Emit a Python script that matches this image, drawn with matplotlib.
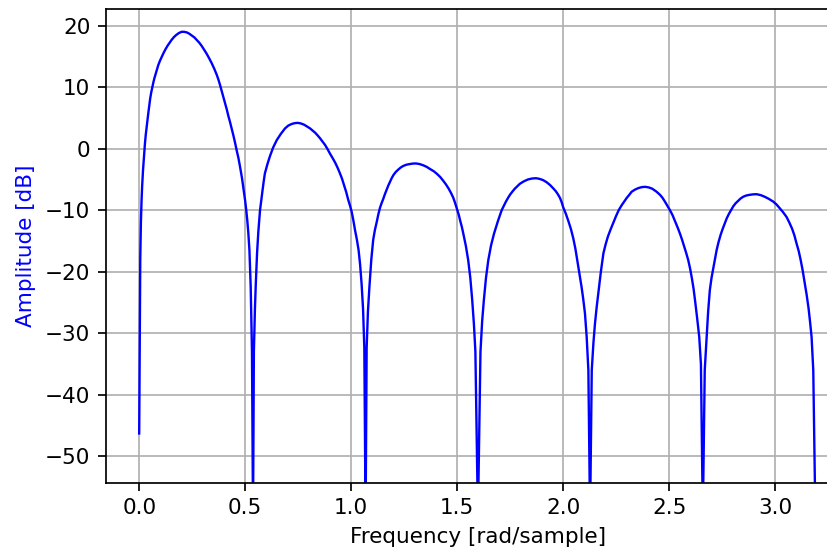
import matplotlib
matplotlib.use("Agg")
import matplotlib.pyplot as plt

# Frequency response: (frequency [rad/sample], amplitude [dB])
points = [
    # main lobe
    (0.0, -46.3), (0.003, -30), (0.005, -18), (0.008, -12), (0.011, -8.5), (0.014, -6),
    (0.018, -3.5), (0.022, -1.5), (0.027, 0.8), (0.031, 2.3), (0.035, 3.5), (0.039, 4.7),
    (0.043, 5.8), (0.048, 7.1), (0.052, 8.2), (0.057, 9.2), (0.062, 10.0), (0.067, 10.8),
    (0.072, 11.5), (0.078, 12.2), (0.083, 12.8), (0.09, 13.6), (0.098, 14.3), (0.106, 14.9),
    (0.114, 15.5), (0.123, 16.1), (0.133, 16.7), (0.143, 17.2), (0.153, 17.7), (0.164, 18.15),
    (0.175, 18.5), (0.187, 18.8), (0.2, 19.0), (0.212, 19.0), (0.225, 18.9), (0.236, 18.7),
    (0.248, 18.4), (0.26, 18.1), (0.271, 17.7), (0.283, 17.25), (0.295, 16.7), (0.306, 16.1),
    (0.318, 15.45), (0.33, 14.7), (0.342, 13.9), (0.354, 13.0), (0.366, 12.0), (0.374, 11.2),
    (0.381, 10.4), (0.389, 9.4), (0.397, 8.4), (0.405, 7.4), (0.413, 6.4), (0.42, 5.4),
    (0.428, 4.4), (0.436, 3.3), (0.444, 2.2), (0.452, 1.0), (0.46, -0.3), (0.468, -1.5),
    (0.475, -2.8), (0.485, -4.8), (0.494, -7.0), (0.5, -8.5), (0.505, -10.0), (0.51, -11.7),
    (0.515, -13.8), (0.52, -16.5), (0.526, -22.5), (0.532, -33), (0.537, -60),
    # lobe 2
    (0.541, -33), (0.546, -26), (0.55, -22), (0.556, -17), (0.562, -13.5), (0.57, -10),
    (0.576, -8.3), (0.581, -7), (0.587, -5.4), (0.593, -4.0), (0.605, -2.5), (0.617, -1.2),
    (0.632, 0.2), (0.649, 1.4), (0.668, 2.4), (0.688, 3.3), (0.703, 3.75), (0.718, 4.0),
    (0.733, 4.15), (0.748, 4.2), (0.763, 4.1), (0.778, 3.9), (0.792, 3.6), (0.806, 3.3),
    (0.818, 2.95), (0.83, 2.6), (0.842, 2.15), (0.853, 1.7), (0.865, 1.15), (0.877, 0.6),
    (0.889, -0.1), (0.9, -0.8), (0.912, -1.5), (0.925, -2.3), (0.936, -3.1), (0.947, -4.0),
    (0.957, -4.9), (0.967, -6.0), (0.977, -7.1), (0.986, -8.3), (0.994, -9.2), (1.002, -10.2),
    (1.01, -11.6), (1.018, -13.2), (1.027, -14.8), (1.035, -16.5), (1.042, -18.8),
    (1.049, -21.9), (1.056, -26), (1.062, -32.4), (1.068, -60),
    # lobe 3
    (1.073, -32.4), (1.079, -26.5), (1.086, -22.5), (1.095, -18), (1.104, -14.8),
    (1.112, -13.2), (1.12, -12.0), (1.128, -10.7), (1.136, -9.6), (1.143, -8.9),
    (1.151, -8.2), (1.159, -7.4), (1.167, -6.7), (1.175, -6.0), (1.183, -5.4), (1.191, -4.8),
    (1.199, -4.3), (1.21, -3.8), (1.222, -3.4), (1.234, -3.05), (1.246, -2.8), (1.261, -2.6),
    (1.276, -2.5), (1.291, -2.42), (1.306, -2.4), (1.323, -2.5), (1.34, -2.7), (1.356, -2.95),
    (1.372, -3.3), (1.389, -3.65), (1.405, -4.1), (1.42, -4.6), (1.434, -5.2), (1.447, -5.8),
    (1.46, -6.5), (1.471, -7.2), (1.482, -8.0), (1.491, -8.9), (1.5, -9.9), (1.508, -10.8),
    (1.515, -11.8), (1.522, -12.7), (1.529, -13.8), (1.541, -15.8), (1.552, -18.1),
    (1.562, -21), (1.571, -24.6), (1.579, -28.5), (1.586, -33), (1.598, -60),
    # lobe 4
    (1.61, -33), (1.618, -28), (1.626, -24.6), (1.636, -21), (1.647, -18.1), (1.66, -15.7),
    (1.674, -13.8), (1.692, -11.8), (1.71, -10.0), (1.72, -9.3), (1.73, -8.6), (1.74, -8.0),
    (1.749, -7.5), (1.76, -7.0), (1.772, -6.5), (1.784, -6.1), (1.796, -5.7), (1.815, -5.3),
    (1.834, -5.0), (1.853, -4.85), (1.872, -4.8), (1.888, -4.9), (1.905, -5.1),
    (1.922, -5.45), (1.938, -5.9), (1.952, -6.4), (1.965, -6.9), (1.975, -7.4), (1.985, -8.0),
    (1.993, -8.7), (2.0, -9.5), (2.013, -10.6), (2.025, -11.8), (2.037, -13.1),
    (2.048, -14.6), (2.058, -16.3), (2.066, -18.0), (2.073, -19.4), (2.079, -20.8),
    (2.087, -22.5), (2.095, -24.5), (2.103, -26.8), (2.111, -30.6), (2.119, -36), (2.127, -60),
    # lobe 5
    (2.135, -36), (2.143, -31.5), (2.15, -28.5), (2.158, -25.8), (2.166, -23.5), (2.178, -20),
    (2.19, -17.0), (2.2, -15.6), (2.211, -14.3), (2.223, -13.2), (2.236, -12.1),
    (2.249, -11.0), (2.262, -10.0), (2.276, -9.2), (2.288, -8.6), (2.3, -8.0), (2.312, -7.5),
    (2.323, -7.0), (2.339, -6.65), (2.355, -6.4), (2.371, -6.25), (2.387, -6.2),
    (2.404, -6.3), (2.42, -6.5), (2.439, -6.95), (2.457, -7.5), (2.469, -8.0), (2.48, -8.6),
    (2.492, -9.3), (2.504, -10.0), (2.516, -10.8), (2.528, -11.8), (2.54, -12.8),
    (2.551, -13.8), (2.561, -14.8), (2.57, -15.8), (2.58, -16.9), (2.59, -18.1),
    (2.599, -19.5), (2.607, -21.0), (2.615, -22.7), (2.622, -24.6), (2.632, -27.5),
    (2.642, -30.6), (2.65, -35), (2.659, -60),
    # lobe 6
    (2.668, -36), (2.677, -30.6), (2.684, -26.5), (2.692, -23.0), (2.7, -21.0), (2.708, -19.5),
    (2.716, -18.0), (2.724, -16.5), (2.733, -15.2), (2.743, -14.0), (2.753, -13.0),
    (2.763, -12.1), (2.772, -11.3), (2.782, -10.6), (2.792, -10.0), (2.802, -9.4),
    (2.813, -8.9), (2.825, -8.5), (2.837, -8.1), (2.85, -7.8), (2.865, -7.6), (2.88, -7.5),
    (2.897, -7.42), (2.913, -7.4), (2.932, -7.55), (2.95, -7.8), (2.97, -8.15), (2.991, -8.6),
    (3.006, -9.05), (3.02, -9.6), (3.037, -10.3), (3.054, -11.1), (3.067, -12.0),
    (3.08, -13.0), (3.091, -14.1), (3.101, -15.4), (3.111, -16.6), (3.12, -18.0),
    (3.13, -19.8), (3.14, -21.9), (3.149, -23.8), (3.158, -26.0), (3.165, -28.2),
    (3.172, -30.6), (3.18, -36), (3.19, -60),
]
freq = [p[0] for p in points]
amp_db = [p[1] for p in points]

x_ticks = [0.0, 0.5, 1.0, 1.5, 2.0, 2.5, 3.0]
y_ticks = [20, 10, 0, -10, -20, -30, -40, -50]

W, H, DPI = 827, 553, 155
fig = plt.figure(figsize=(W / DPI, H / DPI), dpi=DPI)
left_px, right_px, top_px, bottom_px = 105.5, 851.0, 8.7, 483.3
ax = fig.add_axes([left_px / W, (H - bottom_px) / H,
                   (right_px - left_px) / W, (bottom_px - top_px) / H])

ax.plot(freq, amp_db, color='b', linewidth=1.1)
ax.set_xlim(-0.159, 3.358)
ax.set_ylim(-54.4, 22.76)
ax.set_xticks(x_ticks)
ax.set_yticks(y_ticks)
ax.set_ylabel('Amplitude [dB]', color='b')
ax.set_xlabel('Frequency [rad/sample]')
ax.grid(True)

fig.savefig('out.png', dpi=DPI)
